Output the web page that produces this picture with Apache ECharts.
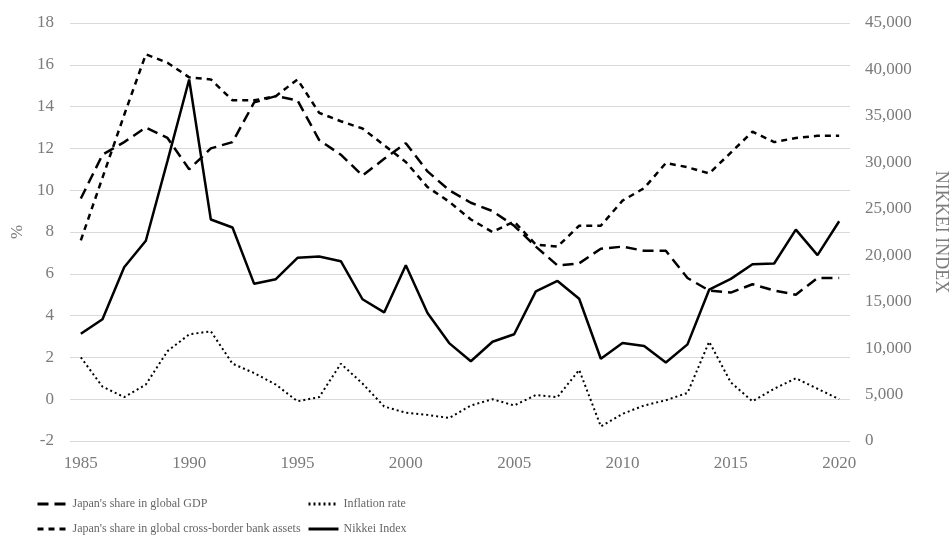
<!DOCTYPE html>
<html>
<head>
<meta charset="utf-8">
<script src="https://cdn.jsdelivr.net/npm/echarts@6/dist/echarts.min.js"></script>
<style>
  html, body { margin: 0; padding: 0; background: #fff; }
  #chart { width: 951px; height: 542px; }
</style>
</head>
<body>
<div id="chart"></div>
<script>
var years = [];
for (var y = 1985; y <= 2020; y++) years.push(String(y));

// Japan's share in global GDP (%)
var gdpShare = [9.6, 11.7, 12.3, 13.0, 12.5, 11.0, 12.0, 12.3, 14.2, 14.5,
  14.3, 12.4, 11.7, 10.7, 11.5, 12.25, 10.9, 10.0, 9.4, 9.0,
  8.3, 7.3, 6.4, 6.5, 7.2, 7.3, 7.1, 7.1, 5.8, 5.2,
  5.1, 5.5, 5.2, 5.0, 5.8, 5.8];

// Japan's share in global cross-border bank assets (%)
var bankShare = [7.6, 10.6, 13.6, 16.5, 16.1, 15.4, 15.3, 14.3, 14.3, 14.5,
  15.3, 13.7, 13.3, 12.95, 12.15, 11.35, 10.15, 9.45, 8.6, 8.0,
  8.5, 7.4, 7.3, 8.3, 8.3, 9.5, 10.1, 11.3, 11.1, 10.8,
  11.8, 12.8, 12.3, 12.5, 12.6, 12.6];

// Inflation rate (%)
var inflation = [2.0, 0.6, 0.1, 0.7, 2.3, 3.1, 3.25, 1.7, 1.25, 0.7,
  -0.1, 0.1, 1.7, 0.75, -0.35, -0.65, -0.75, -0.9, -0.3, 0.0,
  -0.3, 0.2, 0.1, 1.4, -1.3, -0.7, -0.3, -0.05, 0.3, 2.75,
  0.8, -0.1, 0.5, 1.0, 0.5, 0.0];

// Nikkei Index (right axis)
var nikkei = [11540, 13110, 18700, 21560, 30160, 38920, 23850, 22980, 16920, 17420,
  19720, 19870, 19360, 15260, 13840, 18930, 13790, 10540, 8580, 10680,
  11490, 16110, 17230, 15310, 8860, 10550, 10230, 8460, 10400, 16290,
  17450, 19030, 19110, 22760, 20010, 23660];

var leftTicks = { min: -2, max: 18, interval: 2 };
var rightTicks = { min: 0, max: 45000, interval: 5000 };

var serif = "'Liberation Serif', 'Times New Roman', serif";
var labelGray = '#7b7b7b';
var gridGray = '#d9d9d9';

var chart = echarts.init(document.getElementById('chart'));

function lineSeries(name, data, dash, yIdx, w) {
  return {
    name: name,
    type: 'line',
    yAxisIndex: yIdx,
    data: data,
    symbol: 'none',
    smooth: false,
    lineStyle: { color: '#000', width: w, type: dash, cap: 'butt' },
    itemStyle: { color: '#000' },
    z: 3
  };
}

var legendBase = {
  orient: 'vertical',
  top: 493,
  itemWidth: 30,
  itemHeight: 14,
  itemGap: 13,
  itemStyle: { opacity: 0 },
  lineStyle: { width: 3 },
  textStyle: { fontFamily: serif, fontSize: 12, color: '#666' }
};

chart.setOption({
  animation: false,
  grid: { left: 70, right: 101, top: 23, bottom: 101, outerBoundsMode: 'none', containLabel: false },
  legend: [
    Object.assign({}, legendBase, {
      left: 31,
      data: ["Japan's share in global GDP", "Japan's share in global cross-border bank assets"]
    }),
    Object.assign({}, legendBase, {
      left: 302,
      data: ['Inflation rate', 'Nikkei Index']
    })
  ],
  xAxis: {
    type: 'category',
    data: years,
    boundaryGap: true,
    axisLine: { show: false },
    axisTick: { show: false },
    axisLabel: {
      interval: 4,
      margin: 14,
      color: labelGray,
      fontFamily: serif,
      fontSize: 17
    },
    splitLine: { show: false }
  },
  yAxis: [{
    type: 'value',
    min: leftTicks.min,
    max: leftTicks.max,
    interval: leftTicks.interval,
    name: '%',
    nameLocation: 'middle',
    nameGap: 42,
    nameTextStyle: { color: labelGray, fontFamily: serif, fontSize: 17 },
    axisLine: { show: false },
    axisTick: { show: false },
    axisLabel: { margin: 16, color: labelGray, fontFamily: serif, fontSize: 17 },
    splitLine: { show: true, lineStyle: { color: gridGray, width: 1 } }
  }, {
    type: 'value',
    min: rightTicks.min,
    max: rightTicks.max,
    interval: rightTicks.interval,
    position: 'right',
    name: 'NIKKEI INDEX',
    nameLocation: 'middle',
    nameRotate: -90,
    nameGap: 82,
    nameTextStyle: { color: labelGray, fontFamily: serif, fontSize: 18 },
    axisLine: { show: false },
    axisTick: { show: false },
    axisLabel: {
      margin: 15,
      color: labelGray,
      fontFamily: serif,
      fontSize: 17,
      formatter: function (v) { return v.toLocaleString('en-US'); }
    },
    splitLine: { show: false }
  }],
  series: [
    lineSeries("Japan's share in global GDP", gdpShare, [11, 6], 0, 2.5),
    lineSeries("Japan's share in global cross-border bank assets", bankShare, [6, 5], 0, 2.5),
    lineSeries('Inflation rate', inflation, [2, 3], 0, 2),
    lineSeries('Nikkei Index', nikkei, 'solid', 1, 2.5)
  ]
});
</script>
</body>
</html>
